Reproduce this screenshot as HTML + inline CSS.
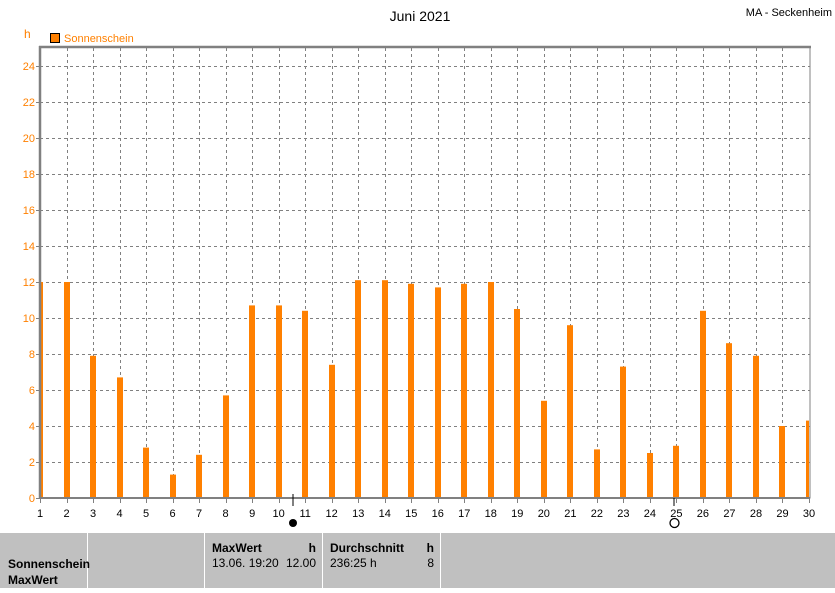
<!DOCTYPE html>
<html><head><style>
body{margin:0;width:835px;height:588px;background:#fff;overflow:hidden;font-family:"Liberation Sans",sans-serif;}
svg text{font-family:"Liberation Sans",sans-serif;}
</style></head><body>
<svg width="835" height="588" xmlns="http://www.w3.org/2000/svg">
<text x="420" y="21" font-size="14" text-anchor="middle" fill="#000">Juni 2021</text>
<text x="832" y="16" font-size="11" text-anchor="end" fill="#000">MA - Seckenheim</text>
<text x="24" y="38" font-size="12" fill="#ff8000">h</text>
<rect x="50.5" y="33.5" width="9" height="9" fill="#ff8000" stroke="#000"/>
<text x="64" y="42" font-size="11" fill="#ff8000">Sonnenschein</text>
<g id="grid" stroke="#808080" stroke-dasharray="3,3" stroke-width="1"></g>
<g id="bars" fill="#ff8000"></g>
<rect x="40" y="47" width="770" height="451" fill="none" stroke="#808080" stroke-width="1"/>
<line x1="40" y1="46" x2="40" y2="499" stroke="#808080" stroke-width="2.5"/>
<line x1="39" y1="47" x2="811" y2="47" stroke="#808080" stroke-width="2.5"/>
<line x1="40" y1="498" x2="810" y2="498" stroke="#808080" stroke-width="2"/>
<g id="ylab" font-size="11" fill="#ff8000" text-anchor="end"></g>
<g id="xlab" font-size="11" fill="#000" text-anchor="middle"></g>
<line x1="293" y1="494" x2="293" y2="506" stroke="#000"/>
<circle cx="293" cy="523" r="4" fill="#000"/>
<line x1="674" y1="498" x2="674" y2="506" stroke="#000"/>
<circle cx="674.5" cy="523" r="4.5" fill="none" stroke="#000" stroke-width="1.3"/>
<rect x="0" y="533" width="835" height="55" fill="#c0c0c0"/>
<g stroke="#fff" stroke-width="1"><line x1="87.5" y1="533" x2="87.5" y2="588"/><line x1="204.5" y1="533" x2="204.5" y2="588"/><line x1="322.5" y1="533" x2="322.5" y2="588"/><line x1="440.5" y1="533" x2="440.5" y2="588"/></g>
<g font-size="12" font-weight="bold" fill="#000">
<text x="8" y="568">Sonnenschein</text><text x="8" y="584">MaxWert</text>
<text x="212" y="552">MaxWert</text><text x="316" y="552" text-anchor="end">h</text>
<text x="330" y="552">Durchschnitt</text><text x="434" y="552" text-anchor="end">h</text>
</g>
<g font-size="12" fill="#000">
<text x="212" y="567">13.06.  19:20</text><text x="316" y="567" text-anchor="end">12.00</text>
<text x="330" y="567">236:25 h</text><text x="434" y="567" text-anchor="end">8</text>
</g>
</svg>
<script>
const ns="http://www.w3.org/2000/svg";
const g=document.getElementById('grid'),b=document.getElementById('bars'),yl=document.getElementById('ylab'),xl=document.getElementById('xlab');
function el(t,a,p){const e=document.createElementNS(ns,t);for(const k in a)e.setAttribute(k,a[k]);p.appendChild(e);return e;}
const X=d=>40+(d-1)*26.517, Y=v=>498-v*18;
for(let v=2;v<=24;v+=2)el('line',{x1:40,x2:810,y1:Y(v)+.5,y2:Y(v)+.5},g);
for(let d=2;d<=29;d++)el('line',{x1:Math.round(X(d))+.5,x2:Math.round(X(d))+.5,y1:48,y2:498},g);
for(let v=0;v<=24;v+=2){el('text',{x:35,y:Y(v)+4},yl).textContent=v;el('line',{x1:36,x2:40,y1:Y(v)+.5,y2:Y(v)+.5,stroke:'#808080'},yl);}
for(let d=1;d<=30;d++){el('text',{x:X(d),y:517},xl).textContent=d;el('line',{x1:Math.round(X(d))+.5,x2:Math.round(X(d))+.5,y1:498,y2:503,stroke:'#808080'},xl);}
const v=[12,12,7.9,6.7,2.8,1.3,2.4,5.7,10.7,10.7,10.4,7.4,12.1,12.1,11.9,11.7,11.9,12,10.5,5.4,9.6,2.7,7.3,2.5,2.9,10.4,8.6,7.9,4,4.3];
v.forEach((h,i)=>{const x=Math.round(X(i+1));const x0=i==0?40:x-3,w=i==0?3:(i==29?3:6);el('rect',{x:x0,y:Y(h),width:w,height:h*18},b);});
</script>
</body></html>
